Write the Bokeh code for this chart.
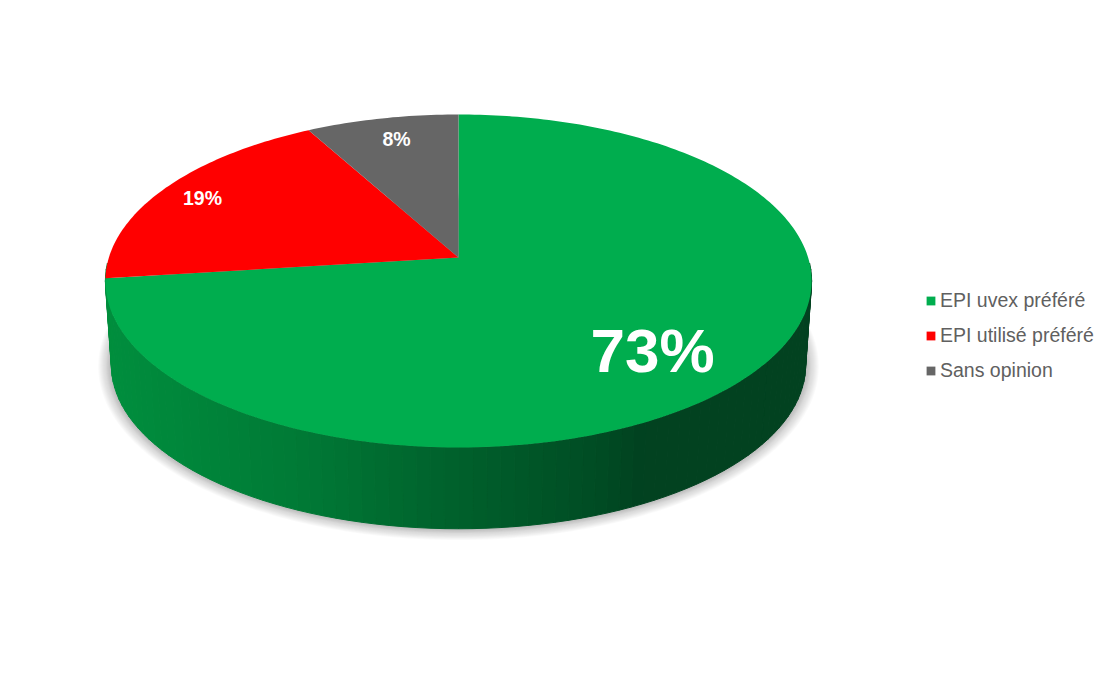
import numpy as np
from bokeh.plotting import figure
from bokeh.models import Legend, LegendItem
from bokeh.core.properties import value
from bokeh.embed import file_html
from bokeh.resources import INLINE

categories = ["EPI uvex préféré", "EPI utilisé préféré", "Sans opinion"]
shares = [73, 19, 8]
colors = ["#00AD4E", "#FF0000", "#666666"]

W, H = 1099, 657
FONT = "Liberation Sans"
CX, APEX_Y = 458.0, 257.0
A, B, C = 349.6, 163.2, 0.141
DEPTH_Y, DEPTH_S = 84.5, 0.983


def project(deg, scale=1.0, dy=0.0, grow_x=0.0, grow_y=0.0):
    t = np.radians(deg)
    u, v = np.sin(t), np.cos(t)
    d = 1 + C * v
    return (CX + (A * scale + grow_x) * u / d,
            APEX_Y + dy - (B * scale + grow_y) * v / d)


p = figure(width=W, height=H, x_range=(0, W), y_range=(H, 0),
           output_backend="svg", toolbar_location=None, min_border=0,
           background_fill_color="white", border_fill_color="white")
p.axis.visible = False
p.grid.visible = False
p.outline_line_color = None

# soft shadow under the disc
circle = np.linspace(0, 360, 361)
for k in np.arange(13, 0, -1.0):
    x, y = project(circle, DEPTH_S, DEPTH_Y, grow_x=k, grow_y=k * 0.75)
    alpha = 0.04 if k > 5 else 0.07
    p.patch(x, y, fill_color="#808080", fill_alpha=alpha, line_color=None)

# side wall, shaded from left to right
stop_x = [105, 300, 458, 600, 640, 811]
stop_g = [143, 122, 96, 76, 66, 66]
stop_r = [0, 0, 0, 0, 2, 2]
stop_b = [62, 54, 44, 36, 32, 32]
edges = np.arange(92, 269, 2.0)
xs, ys, fills = [], [], []
for a0, a1 in zip(edges[:-1], edges[1:]):
    arc = np.array([a0, a1])
    tx, ty = project(arc)
    bx, by = project(arc, DEPTH_S, DEPTH_Y)
    xs.append(np.r_[tx, bx[::-1]])
    ys.append(np.r_[ty, by[::-1]])
    mx = (tx.mean() + bx.mean()) / 2
    rgb = [int(np.interp(mx, stop_x, s)) for s in (stop_r, stop_g, stop_b)]
    fills.append("#%02x%02x%02x" % tuple(rgb))
p.patches(xs, ys, fill_color=fills, line_color=fills, line_width=1.0)

# top face, one slice per share, clockwise from twelve o'clock
bounds = np.r_[0, np.cumsum(shares)] * 360.0 / sum(shares)
items = []
for name, col, a0, a1 in zip(categories, colors, bounds[:-1], bounds[1:]):
    arc = np.linspace(a0, a1, max(int(a1 - a0), 2) + 1)
    x, y = project(arc)
    r = p.patch(np.r_[CX, x], np.r_[APEX_Y, y], fill_color=col, line_color=None)
    items.append(LegendItem(label=name, renderers=[r]))

# value labels
label_x = [652, 202, 396]
label_y = [350, 197, 138]
label_px = ["62px", "19.5px", "19.5px"]
for s, lx, ly, fs in zip(shares, label_x, label_y, label_px):
    p.text([lx], [ly], text=[f"{s}%"], text_color="white", text_font=value(FONT),
           text_font_style="bold", text_font_size=fs, text_align="center",
           text_baseline="middle")

legend = Legend(items=items, location=(925, 275), orientation="vertical",
                background_fill_alpha=0, border_line_color=None,
                glyph_width=11, glyph_height=11, label_text_font=FONT,
                label_text_font_size="19.5px", label_text_color="#606060",
                label_standoff=4, spacing=12, padding=8, margin=0,
                label_height=22)
p.add_layout(legend, "center")

open("out.html", "w").write(file_html(p, INLINE))
